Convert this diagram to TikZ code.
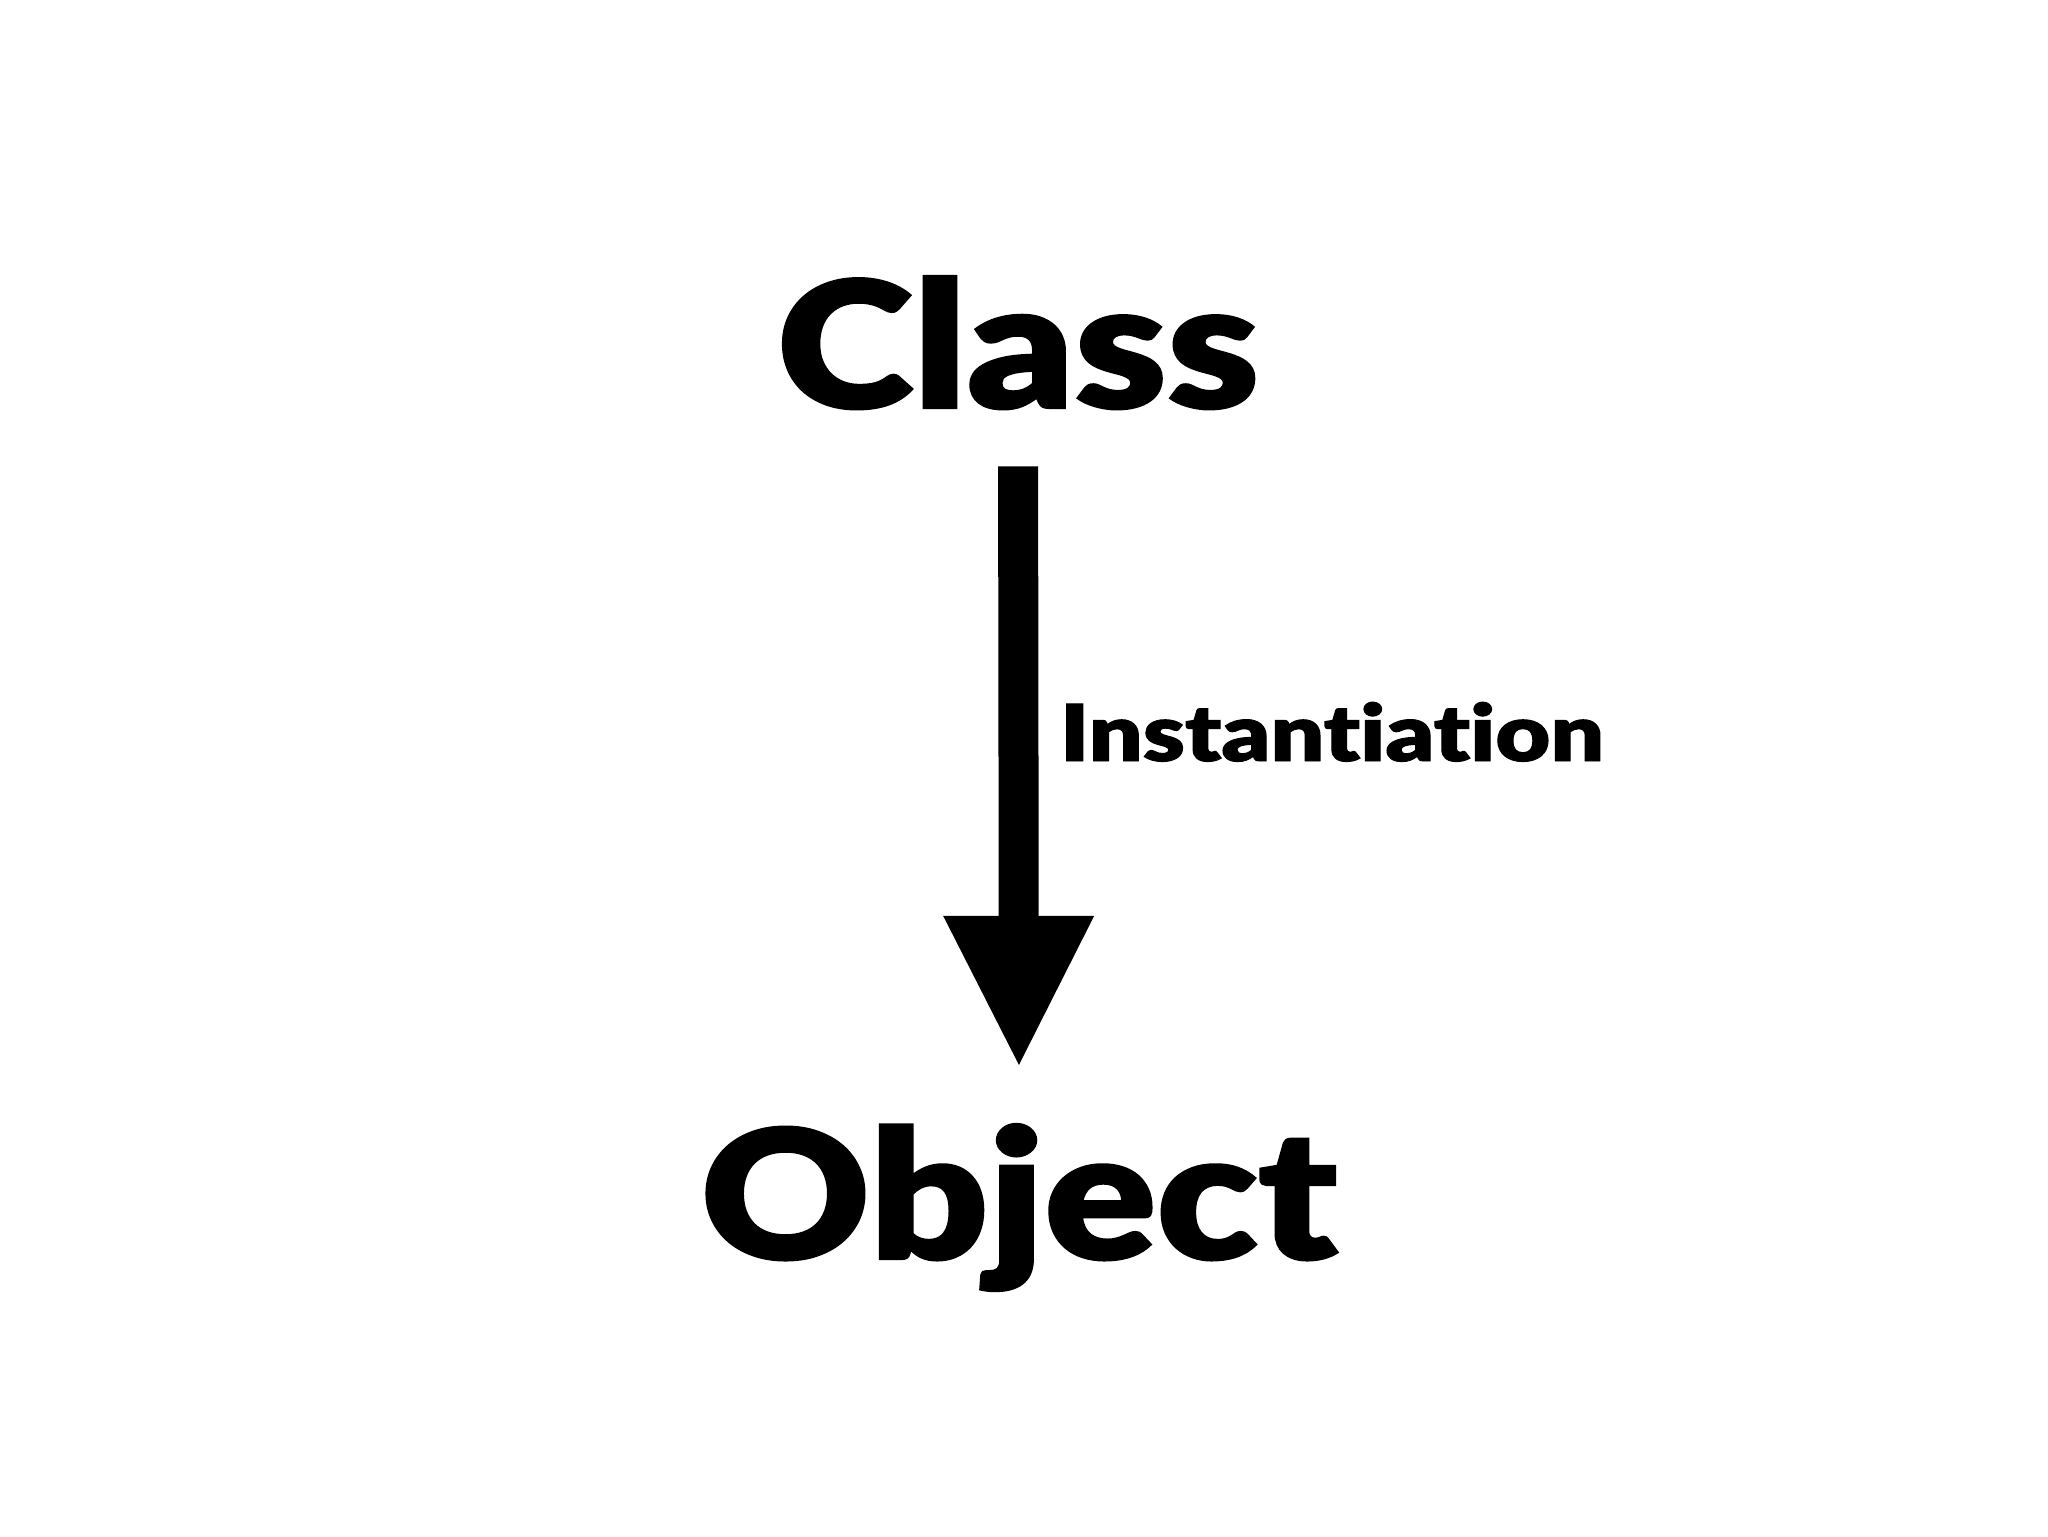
\documentclass[tikz,border=0pt]{standalone}
\usepackage{fontspec}
\newfontfamily\heavy[Ligatures={NoCommon,NoRare,NoContextual},Contextuals=NoAlternate,FakeBold=1.2]{Lato Black}
\usetikzlibrary{arrows.meta}
\tikzset{
  lbl/.style={inner sep=0pt, outer sep=0pt, anchor=base, font=\heavy},
  inst/.style={line width=20pt, -{Triangle[width=75.5pt,length=74.5pt,line width=0pt]}}
}
\begin{document}
\begin{tikzpicture}[x=0.5pt,y=-0.5pt]
\useasboundingbox (0,0) rectangle (2048,1536);
\node[lbl] (class) at (1018,408) {\resizebox{241pt}{66pt}{Class}};
\node[lbl] (object) at (1019,1259) {\resizebox{318pt}{67.5pt}{Object}};
\node[lbl, anchor=base west] (label) at (1060,761) {\resizebox{272pt}{29.5pt}{Instantiation}};
\draw[inst, shorten <=28.5pt, shorten >=29.5pt] (class.south) -- (object.north);
\end{tikzpicture}
\end{document}
